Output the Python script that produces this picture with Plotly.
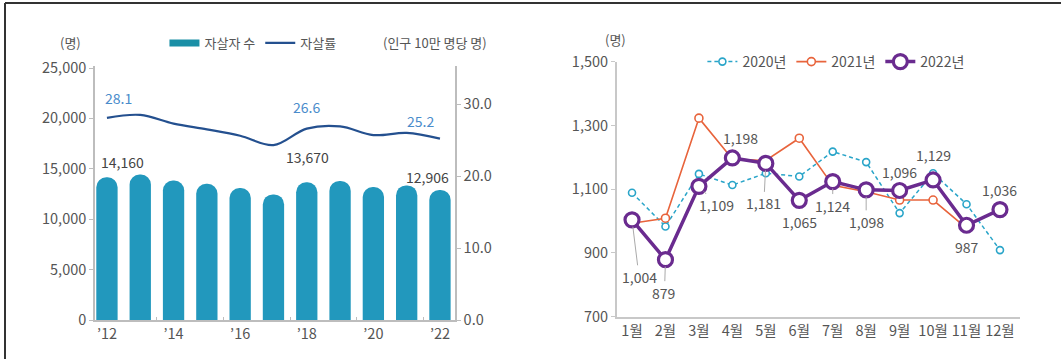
import plotly.graph_objects as go

# ---------------- data ----------------
years = [2012, 2013, 2014, 2015, 2016, 2017, 2018, 2019, 2020, 2021, 2022]
year_labels = ["’12", "’14", "’16", "’18", "’20", "’22"]
year_label_vals = [2012, 2014, 2016, 2018, 2020, 2022]
year_minor_ticks = [2013.5, 2015.5, 2017.5, 2019.5, 2021.5]
suicides = [14160, 14427, 13836, 13513, 13092, 12463, 13670, 13799, 13195, 13352, 12906]
rate = [28.1, 28.5, 27.3, 26.5, 25.6, 24.3, 26.6, 26.9, 25.7, 26.0, 25.2]

months = list(range(1, 13))
month_labels = [f"{m}월" for m in months]
y2020 = [1089, 983, 1148, 1113, 1150, 1140, 1218, 1185, 1025, 1150, 1053, 909]
y2021 = [993, 1009, 1323, 1195, 1190, 1260, 1112, 1092, 1066, 1066, 978, None]
y2022 = [1004, 879, 1109, 1198, 1181, 1065, 1124, 1098, 1096, 1129, 987, 1036]

FONT = "Noto Sans CJK KR, Noto Sans, sans-serif"
GRAY = "#555555"
AXIS = "#bdbdbd"

fig = go.Figure()

# ---------------- left chart ----------------
fig.add_trace(go.Bar(
    x=years, y=suicides, xaxis="x", yaxis="y",
    marker=dict(color="#2298bd", cornerradius=11, line=dict(width=0)),
    width=0.64, showlegend=False, hoverinfo="skip"))
fig.add_trace(go.Scatter(
    x=[None], y=[None], xaxis="x", yaxis="y", mode="lines",
    line=dict(color="#1a8fa6", width=7), name="자살자 수", legend="legend"))
fig.add_trace(go.Scatter(
    x=years, y=rate, xaxis="x", yaxis="y2", mode="lines",
    line=dict(color="#24508f", width=2.2, shape="spline", smoothing=1.0),
    name="자살률", legend="legend"))

# ---------------- right chart ----------------
fig.add_trace(go.Scatter(
    x=months, y=y2020, xaxis="x3", yaxis="y3", mode="lines+markers",
    line=dict(color="#2aa5c9", width=1.5, dash="4px,3px"),
    marker=dict(symbol="circle", size=7, color="white", line=dict(color="#2aa5c9", width=1.6)),
    name="2020년", legend="legend2"))
fig.add_trace(go.Scatter(
    x=months, y=y2021, xaxis="x3", yaxis="y3", mode="lines+markers",
    line=dict(color="#e8643c", width=1.6),
    marker=dict(symbol="circle", size=8, color="white", line=dict(color="#e8643c", width=1.6)),
    name="2021년", legend="legend2"))
fig.add_trace(go.Scatter(
    x=months, y=y2022, xaxis="x3", yaxis="y3", mode="lines+markers",
    line=dict(color="#6a2b8f", width=3.5),
    marker=dict(symbol="circle", size=14, color="white", line=dict(color="#6a2b8f", width=3.2)),
    name="2022년", legend="legend2"))

tickfont = dict(family=FONT, size=14.5, color=GRAY)

fig.update_layout(
    width=1061, height=359,
    margin=dict(l=0, r=0, t=0, b=0, pad=0, autoexpand=False),
    paper_bgcolor="white", plot_bgcolor="white",
    font=dict(family=FONT, color=GRAY),
    barmode="overlay",
    xaxis=dict(domain=[0.0895, 0.4288], range=[2011.64, 2022.45], automargin=False,
               tickvals=year_label_vals, ticktext=year_labels, tickfont=tickfont,
               showline=True, linecolor=AXIS, linewidth=1.5, showgrid=False, zeroline=False,
               ticks="",
               minor=dict(tickvals=year_minor_ticks, ticks="inside", ticklen=3,
                          tickcolor=AXIS, tickwidth=1, showgrid=False)),
    yaxis=dict(domain=[0.1086, 0.8162], range=[0, 25200], automargin=False,
               tickvals=[0, 5000, 10000, 15000, 20000, 25000], tickformat=",",
               tickfont=tickfont, showline=True, linecolor=AXIS, linewidth=1.5,
               ticks="outside", ticklen=4, tickcolor=AXIS, showgrid=False, zeroline=False),
    yaxis2=dict(overlaying="y", side="right", anchor="x", range=[0, 35.3], automargin=False,
                tickvals=[0, 10, 20, 30], tickformat=".1f", tickfont=tickfont,
                showline=True, linecolor=AXIS, linewidth=1.5,
                ticks="outside", ticklen=4, tickcolor=AXIS, showgrid=False, zeroline=False),
    xaxis3=dict(domain=[0.5815, 0.9614], anchor="y3", range=[0.55, 12.6], automargin=False,
                tickvals=months, ticktext=month_labels, tickfont=tickfont,
                showline=True, linecolor="#c8c8c8", linewidth=2, showgrid=False, zeroline=False,
                ticks=""),
    yaxis3=dict(domain=[0.1178, 0.8281], anchor="x3", range=[700, 1500], automargin=False,
                tickvals=[700, 900, 1100, 1300, 1500], tickformat=",", tickfont=tickfont,
                showline=True, linecolor="#c8c8c8", linewidth=2,
                ticks="outside", ticklen=4, tickcolor="#c8c8c8", showgrid=False, zeroline=False),
    legend=dict(orientation="h", x=0.155, y=1-43/359, xanchor="left", yanchor="middle",
                font=dict(family=FONT, size=13, color=GRAY), bgcolor="rgba(0,0,0,0)",
                itemwidth=30, tracegroupgap=0, traceorder="normal"),
    legend2=dict(orientation="h", x=0.662, y=1-62/359, xanchor="left", yanchor="middle",
                 font=dict(family=FONT, size=14, color=GRAY), bgcolor="rgba(0,0,0,0)",
                 itemwidth=30, traceorder="normal"),
)

ann = []
# unit labels
for txt, px, py in [("(명)", 70, 43), ("(인구 10만 명당 명)", 435, 43), ("(명)", 615, 40)]:
    ann.append(dict(text=txt, xref="paper", yref="paper", x=px/1061, y=1-py/359,
                    xanchor="center", yanchor="middle",
                    showarrow=False, font=dict(size=13, color=GRAY)))

# bar labels
for idx, xs, ys in [(0, 16, 15), (6, 1, 25), (10, -12, 13)]:
    ann.append(dict(x=years[idx], y=suicides[idx], xref="x", yref="y",
                    text=f"{suicides[idx]:,}", showarrow=False, xshift=xs, yshift=ys,
                    font=dict(size=14, color="#444444")))
# rate labels
for idx, xs, ys in [(0, 12, 20), (6, 0, 22), (10, -19, 18)]:
    ann.append(dict(x=years[idx], y=rate[idx], xref="x", yref="y2",
                    text=f"{rate[idx]:.1f}", showarrow=False, xshift=xs, yshift=ys,
                    font=dict(size=14, color="#4a8ccb")))

# 2022 point labels: (ax, ay, leader)
offsets = [(7, 57, True), (-1, 33, True), (18, 19, True), (8, -20, False),
           (-2, 40, True), (0, 22, False), (0, 24, True), (0, 32, True),
           (0, -18, False), (0, -25, False), (0, 22, False), (0, -20, False)]
for m, v, (ax, ay, lead) in zip(months, y2022, offsets):
    a = dict(x=m, y=v, xref="x3", yref="y3", text=f"{v:,}",
             font=dict(size=14, color=GRAY))
    if lead:
        a.update(showarrow=True, ax=ax, ay=ay, axref="pixel", ayref="pixel",
                 arrowhead=0, arrowwidth=1, arrowcolor="#aaaaaa", standoff=7)
    else:
        a.update(showarrow=False, xshift=ax, yshift=-ay)
    ann.append(a)

fig.update_layout(annotations=ann)

# outer frame (top and left edges)
fig.add_shape(type="line", xref="paper", yref="paper", x0=5/1061, x1=1, y0=1-3/359, y1=1-3/359,
              line=dict(color="#333333", width=2))
fig.add_shape(type="line", xref="paper", yref="paper", x0=5/1061, x1=5/1061, y0=0, y1=1-3/359,
              line=dict(color="#333333", width=2))

fig.write_html("out.html",
               post_script="document.documentElement.style.margin='0';document.body.style.margin='0';")
